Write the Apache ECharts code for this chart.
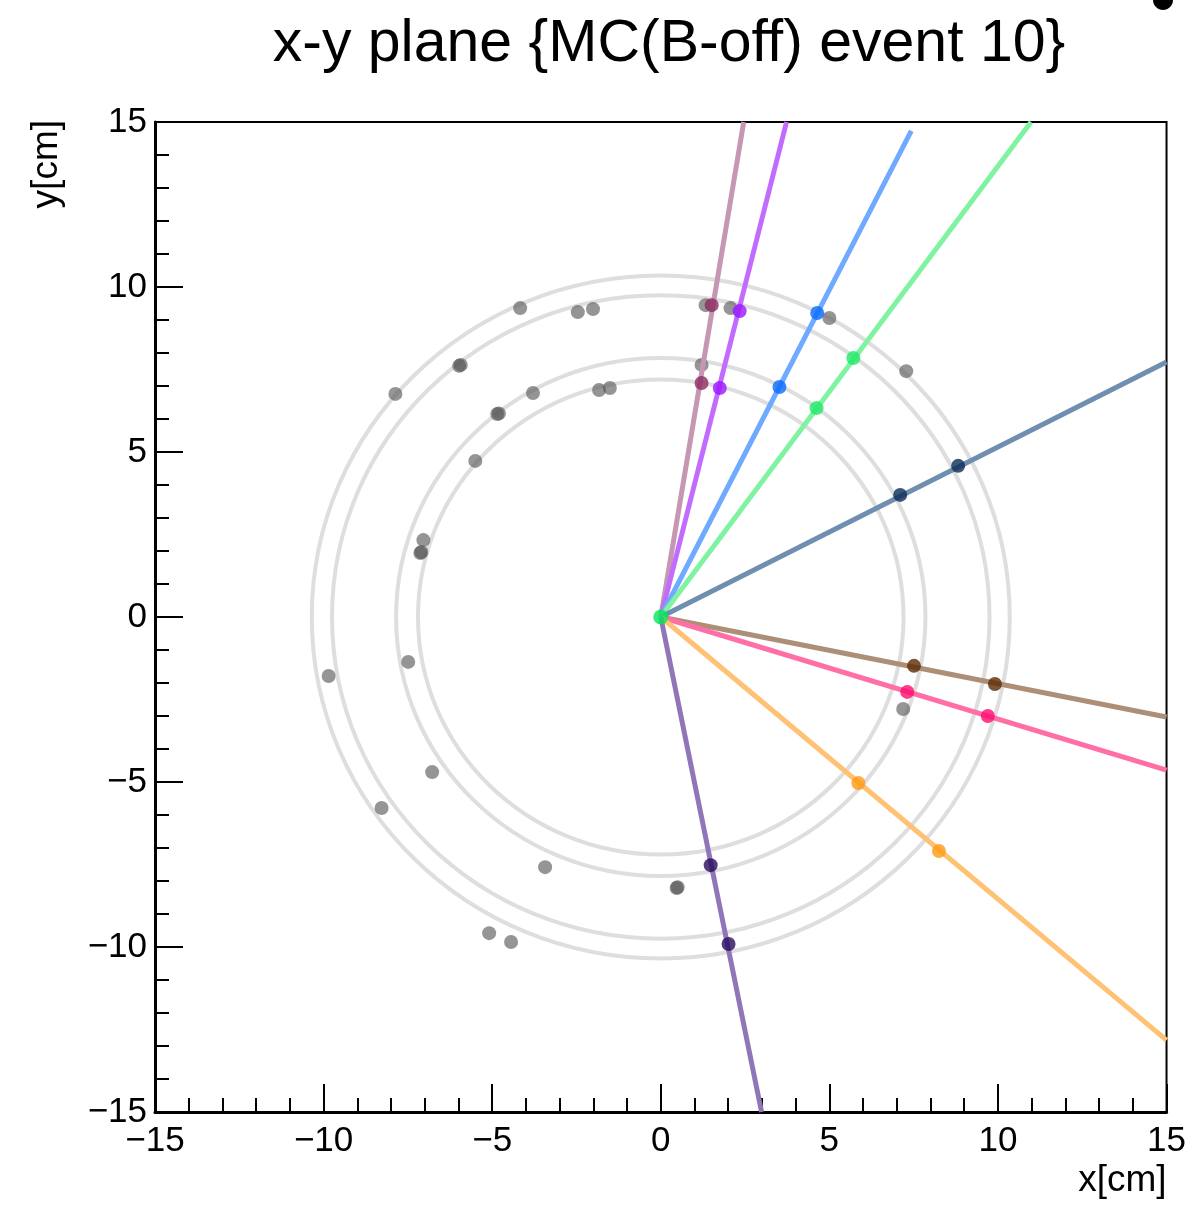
<!DOCTYPE html>
<html>
<head>
<meta charset="utf-8">
<script src="https://cdn.jsdelivr.net/npm/echarts@6/dist/echarts.min.js"></script>
<style>
  html, body { margin: 0; padding: 0; background: #fff; }
  #xy-plane { width: 1189px; height: 1211px; }
</style>
</head>
<body>
<div id="xy-plane"></div>
<script>
// detector layers (radius, cm)
const layerRadii = [7.2, 7.85, 9.75, 10.35]

// reconstructed tracks: straight lines from the vertex
const trackEndX = [2.46, 3.73, 7.43, 10.98, 15, 15, 15, 15, 2.99]
const trackEndY = [15, 15, 14.73, 15, 7.73, -3.03, -4.64, -12.82, -15]
const hitInnerX = [1.21, 1.75, 3.52, 4.62, 7.10, 7.51, 7.31, 5.86, 1.48]
const hitInnerY = [7.09, 6.94, 6.97, 6.33, 3.70, -1.48, -2.27, -5.03, -7.52]
const hitOuterX = [1.51, 2.34, 4.64, 5.71, 8.82, 9.91, 9.70, 8.25, 2.01]
const hitOuterY = [9.45, 9.27, 9.21, 7.85, 4.58, -2.03, -3.00, -7.09, -9.91]

// hits not attached to any track
const strayX = [-4.17, -2.46, -2.01, -5.98, -5.93, -7.87, -4.85, -4.80, -3.79, -1.83,
  -1.51, -5.50, -7.04, -7.13, -7.10, -9.85, -7.49, -6.78, -8.28, -3.43,
  -5.09, -4.44, 0.47, 0.50, 2.07, 1.33, 1.21, 5.00, 7.28, 7.19]
const strayY = [9.36, 9.24, 9.33, 7.61, 7.64, 6.76, 6.15, 6.17, 6.79, 6.88,
  6.94, 4.73, 2.33, 1.94, 1.97, -1.79, -1.36, -4.70, -5.79, -7.58,
  -9.58, -9.85, -8.21, -8.19, 9.36, 9.45, 7.64, 9.06, 7.45, -2.79]

const vertex = [0, 0]

const lineColors = ['#c597b3', '#c16cff', '#6faaff', '#7ff3a2', '#6f8fb0',
  '#ad8f78', '#ff6fa6', '#ffc173', '#9076b8']
const hitColors = ['#8c2a60', '#9b14ff', '#0a6cff', '#1fe866', '#0b2c57',
  '#5b2a05', '#ff0a6e', '#ff9a14', '#2b0b5c']

const font = '"Liberation Sans", Arial, Helvetica, sans-serif'
const fmt = (v) => String(v).replace('-', '\u2212')

const chart = echarts.init(document.getElementById('xy-plane'))

const series = []

series.push({
  type: 'custom',
  z: 1,
  silent: true,
  clip: true,
  data: layerRadii.map((r) => [r]),
  encode: { x: -1, y: -1 },
  renderItem: (params, api) => {
    const r = api.value(0)
    const c = api.coord(vertex)
    const s = api.size([r, r])
    return {
      type: 'ellipse',
      shape: { cx: c[0], cy: c[1], rx: s[0], ry: s[1] },
      style: { fill: 'none', stroke: '#dedede', lineWidth: 4 }
    }
  }
})

series.push({
  type: 'scatter',
  z: 2,
  symbolSize: 14,
  itemStyle: { color: 'rgba(85,85,85,0.78)' },
  data: strayX.map((x, i) => [x, strayY[i]])
})

trackEndX.forEach((ex, i) => {
  series.push({
    type: 'line',
    z: 3,
    symbol: 'none',
    clip: true,
    lineStyle: { color: lineColors[i], width: 5 },
    data: [vertex, [ex, trackEndY[i]]]
  })
  series.push({
    type: 'scatter',
    z: 4,
    symbolSize: 14,
    itemStyle: { color: hitColors[i] },
    data: [[hitInnerX[i], hitInnerY[i]], [hitOuterX[i], hitOuterY[i]]]
  })
})

series.push({
  type: 'scatter',
  z: 5,
  symbolSize: 15,
  itemStyle: { color: '#00e85a' },
  data: [vertex]
})

const axisCommon = {
  type: 'value',
  min: -15,
  max: 15,
  interval: 5,
  axisLine: { show: true, onZero: false, lineStyle: { color: '#000', width: 3 } },
  axisTick: { show: true, inside: true, length: 28, lineStyle: { color: '#000', width: 2 } },
  minorTick: { show: true, splitNumber: 5, length: 14, lineStyle: { color: '#000', width: 2 } },
  splitLine: { show: false },
  minorSplitLine: { show: false },
  axisLabel: { fontSize: 35, color: '#000', fontFamily: font, formatter: fmt }
}

chart.setOption({
  animation: false,
  backgroundColor: '#fff',
  title: {
    text: 'x-y plane {MC(B-off) event 10}',
    left: 664,
    top: 10,
    textAlign: 'center',
    textStyle: { fontSize: 59, fontWeight: 'normal', color: '#000', fontFamily: font }
  },
  grid: {
    left: 155,
    right: 20,
    top: 122,
    bottom: 99,
    show: true,
    borderColor: '#000',
    borderWidth: 2
  },
  xAxis: Object.assign({}, axisCommon, {
    position: 'bottom',
    name: 'x[cm]',
    nameLocation: 'end',
    nameGap: 0,
    nameTextStyle: {
      fontSize: 37, color: '#000', fontFamily: font,
      align: 'right', verticalAlign: 'top', padding: [50, 0, 0, 0]
    },
    axisLabel: Object.assign({}, axisCommon.axisLabel, { margin: 12 })
  }),
  yAxis: Object.assign({}, axisCommon, {
    position: 'left',
    name: 'y[cm]',
    nameLocation: 'end',
    nameRotate: 90,
    nameGap: 2,
    nameTextStyle: {
      fontSize: 37, color: '#000', fontFamily: font,
      align: 'right', verticalAlign: 'bottom', padding: [0, 0, 90, 0]
    },
    axisLabel: Object.assign({}, axisCommon.axisLabel, { margin: 8 })
  }),
  graphic: [{
    type: 'ellipse',
    shape: { cx: 1163, cy: 0, rx: 10, ry: 10 },
    style: { fill: '#000' }
  }],
  series: series
})
</script>
</body>
</html>
